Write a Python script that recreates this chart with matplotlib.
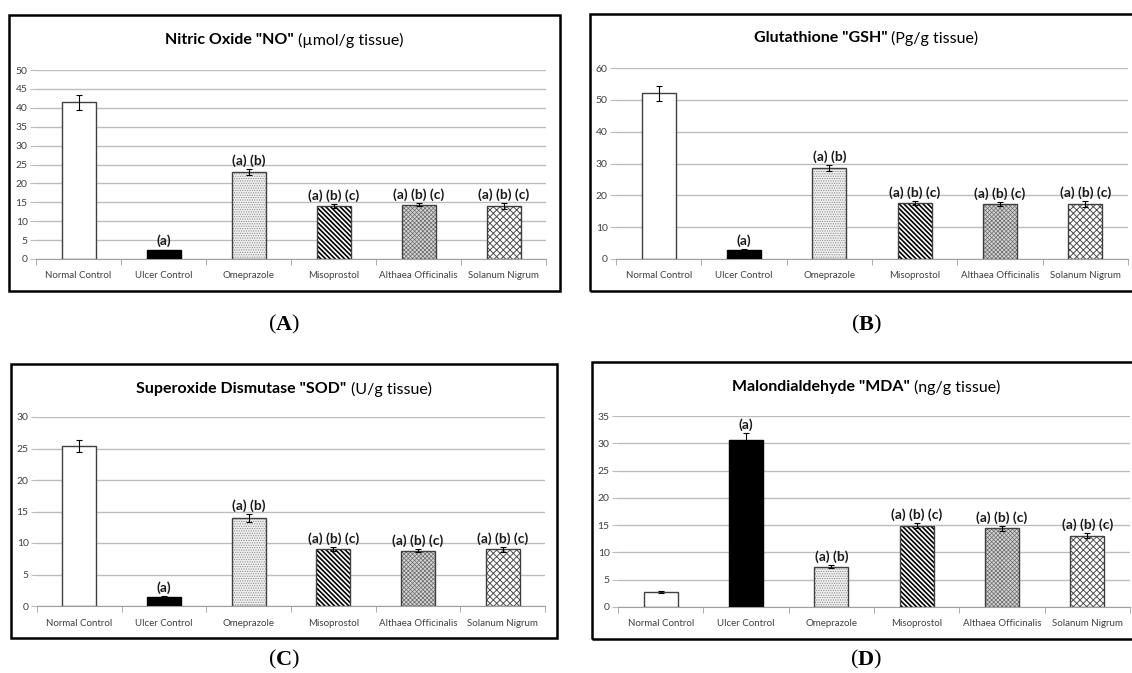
import numpy as np
import matplotlib.pyplot as plt
from matplotlib.patches import Rectangle

plt.rcParams['font.family'] = ['Lato', 'DejaVu Sans']

W, H = 1132, 673

# data
groups = ['Normal Control', 'Ulcer Control', 'Omeprazole', 'Misoprostol',
          'Althaea Officinalis', 'Solanum Nigrum']
letters = ['', '(a)', '(a) (b)', '(a) (b) (c)', '(a) (b) (c)', '(a) (b) (c)']

no_vals = [41.5, 2.3, 23.0, 14.0, 14.3, 14.0]
no_err = [2.0, 0.2, 0.7, 0.6, 0.4, 0.9]
gsh_vals = [52.0, 2.8, 28.5, 17.5, 17.2, 17.3]
gsh_err = [2.5, 0.3, 1.0, 0.6, 0.6, 1.0]
sod_vals = [25.4, 1.5, 14.0, 9.1, 8.8, 9.0]
sod_err = [1.0, 0.1, 0.6, 0.3, 0.3, 0.4]
mda_vals = [2.7, 30.6, 7.4, 14.9, 14.4, 13.1]
mda_err = [0.2, 1.2, 0.3, 0.5, 0.5, 0.4]

titles_bold = ['Nitric Oxide "NO"', 'Glutathione "GSH"',
               'Superoxide Dismutase "SOD"', 'Malondialdehyde "MDA"']
titles_unit = ['(µmol/g tissue)', '(Pg/g tissue)', '(U/g tissue)', '(ng/g tissue)']
panel_ids = ['A', 'B', 'C', 'D']
ymax = [50, 60, 30, 35]
ystep = [5, 10, 5, 5]

# bar looks: face, hatch, hatch colour, hatch line width
looks = [('white', None, '#404040', 0.7),
         ('black', None, 'black', 0.7),
         ('#eeeeee', '.' * 7, '#8a8a8a', 0.5),
         ('white', '\\' * 7, 'black', 1.2),
         ('#d6d6d6', 'x' * 8, '#6a6a6a', 0.5),
         ('white', 'x' * 5, '#505050', 0.7)]

# layout in pixels: axes (left, right, top, bottom), frame (x0, x1, y0, y1), title y, label y
ax_px = [(36, 546, 70, 259), (616, 1128, 68, 259),
         (37, 545, 417, 606), (618, 1130, 416, 607)]
frame_px = [(9, 560, 15, 291), (590, 1145, 14, 291),
            (11, 557, 364, 638), (592, 1145, 362, 639)]
title_y = [40, 38, 389, 387]
label_y = [325, 325, 660, 660]
centers = [284, 866, 284, 866]

fig = plt.figure(figsize=(W / 100, H / 100), dpi=100)


def rich(x, y, parts, size, gap, family=None):
    # several pieces of text side by side, centred together on x
    ts = []
    for s, w in parts:
        kw = dict(fontsize=size, fontweight=w, va='center', ha='left')
        if family:
            kw['family'] = family
        ts.append(fig.text(0, 1 - y / H, s, **kw))
    r = fig.canvas.get_renderer()
    ws = [t.get_window_extent(r).width for t in ts]
    x0 = x - (sum(ws) + gap * (len(ts) - 1)) / 2
    for t, wd in zip(ts, ws):
        t.set_x(x0 / W)
        x0 += wd + gap


vals_all = [no_vals, gsh_vals, sod_vals, mda_vals]
errs_all = [no_err, gsh_err, sod_err, mda_err]
x = np.arange(len(groups))

for k in range(4):
    l, r, t, b = ax_px[k]
    ax = fig.add_axes([l / W, 1 - b / H, (r - l) / W, (b - t) / H])
    v, e = vals_all[k], errs_all[k]
    for i in range(len(groups)):
        face, hatch, hc, hlw = looks[i]
        with plt.rc_context({'hatch.linewidth': hlw}):
            ax.bar(x[i], v[i], 0.4, color=face, hatch=hatch, edgecolor=hc, lw=0, zorder=2)
        ax.bar(x[i], v[i], 0.4, fill=False, edgecolor='black' if i == 1 else '#404040',
               lw=1, zorder=3)
    ax.errorbar(x, v, yerr=e, fmt='none', ecolor='black', elinewidth=0.8,
                capsize=2.5, capthick=0.8, zorder=4)
    for i in range(len(groups)):
        if letters[i]:
            ax.annotate(letters[i], (x[i], v[i] + e[i]), xytext=(0, 1.5),
                        textcoords='offset points', ha='center', va='bottom',
                        fontsize=10, fontweight='bold', color='#1a1a1a', zorder=5)
    ax.set_xlim(-0.5, 5.5)
    ax.set_ylim(0, ymax[k])
    ax.set_yticks(np.arange(0, ymax[k] + 1, ystep[k]))
    ax.yaxis.grid(True, color='#bdbdbd', lw=1)
    ax.set_axisbelow(True)
    ax.set_xticks(x)
    ax.set_xticklabels(groups)
    ax.set_xticks(np.arange(-0.5, 6, 1), minor=True)
    ax.tick_params(axis='x', which='major', length=0, labelsize=7,
                   labelcolor='#404040', pad=9)
    ax.tick_params(axis='x', which='minor', length=4, color='#a0a0a0')
    ax.tick_params(axis='y', length=4, color='#bdbdbd', labelsize=7.5,
                   labelcolor='#404040', pad=2)
    for s in ['top', 'right', 'left']:
        ax.spines[s].set_visible(False)
    ax.spines['bottom'].set_color('#a0a0a0')
    ax.patch.set_alpha(0)

    fx0, fx1, fy0, fy1 = frame_px[k]
    fig.add_artist(Rectangle((fx0 / W, 1 - fy1 / H), (fx1 - fx0) / W, (fy1 - fy0) / H,
                             transform=fig.transFigure, fill=False, lw=1.8,
                             ec='black'))
    rich(centers[k], title_y[k], [(titles_bold[k], 'bold'), (titles_unit[k], 'normal')],
         11.5, 4)
    rich(centers[k], label_y[k], [('(', 'normal'), (panel_ids[k], 'bold'), (')', 'normal')],
         16, -0.5, family='Liberation Serif')

fig.savefig('out.png', dpi=100)
